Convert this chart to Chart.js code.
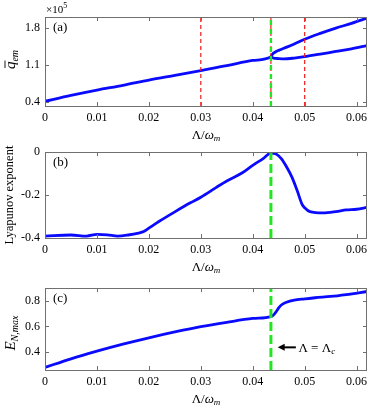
<!DOCTYPE html>
<html>
<head>
<meta charset="utf-8">
<script src="https://cdn.jsdelivr.net/npm/chart.js@4.4.0/dist/chart.umd.min.js"></script>
<style>
  body { margin: 0; background: #fff; width: 374px; height: 411px; position: relative; overflow: hidden; }
  canvas { position: absolute; left: 0; }
</style>
</head>
<body>
<canvas id="ca" width="374" height="145" style="top:0px"></canvas>
<canvas id="cb" width="374" height="140" style="top:140px"></canvas>
<canvas id="cc" width="374" height="135" style="top:276px"></canvas>
<script>
'use strict';

// shared x axis
var xTicks = [0, 0.01, 0.02, 0.03, 0.04, 0.05, 0.06];
var xMax = 0.062;
var lambdaC = 0.0435;
var redLines = [0.03, 0.0435, 0.05];

// (a) mean photon number (x1e5): single branch, then the two branches
var qX = [0, 0.005, 0.01, 0.015, 0.02, 0.025, 0.03, 0.035, 0.04, 0.0435];
var qY = [0.41, 0.52, 0.62, 0.71, 0.81, 0.90, 0.99, 1.08, 1.18, 1.25];
var upX = [0.0438, 0.0442, 0.045, 0.046, 0.048, 0.05, 0.053, 0.056, 0.059, 0.062];
var upY = [1.30, 1.33, 1.37, 1.41, 1.49, 1.58, 1.69, 1.79, 1.88, 1.98];
var lowX = [0.0435, 0.044, 0.045, 0.046, 0.048, 0.05, 0.053, 0.056, 0.059, 0.062];
var lowY = [1.25, 1.225, 1.215, 1.21, 1.225, 1.25, 1.30, 1.35, 1.40, 1.46];
var qTicks = [0.4, 1.1, 1.8];

// (b) Lyapunov exponent
var lyX = [0, 0.005, 0.008, 0.01, 0.012, 0.014, 0.016, 0.018, 0.019, 0.02, 0.022, 0.025, 0.028, 0.03,
           0.033, 0.035, 0.038, 0.04, 0.042, 0.0435, 0.0445, 0.0455, 0.0465, 0.0475, 0.0485, 0.0495,
           0.05, 0.051, 0.0535, 0.056, 0.058, 0.06, 0.062];
var lyY = [-0.391, -0.386, -0.391, -0.383, -0.385, -0.391, -0.386, -0.377, -0.37, -0.354, -0.322, -0.278, -0.236, -0.21,
           -0.164, -0.134, -0.096, -0.061, -0.03, -0.004, -0.008, -0.03, -0.068, -0.114, -0.175, -0.243,
           -0.259, -0.277, -0.283, -0.277, -0.269, -0.266, -0.257];
var lyTicks = [-0.4, -0.2, 0];

// (c) maximum entanglement
var enX = [0, 0.005, 0.01, 0.015, 0.02, 0.025, 0.03, 0.035, 0.04, 0.0435, 0.044, 0.0445, 0.045, 0.0455,
           0.0465, 0.048, 0.05, 0.052, 0.055, 0.058, 0.062];
var enY = [0.277, 0.345, 0.405, 0.46, 0.51, 0.556, 0.598, 0.632, 0.662, 0.677, 0.69, 0.715, 0.745, 0.768,
           0.79, 0.806, 0.816, 0.825, 0.835, 0.85, 0.874];
var enTicks = [0.4, 0.6, 0.8];

var SERIF = '"Liberation Serif", "Times New Roman", serif';
var BLUE = '#0a0aff';
var RED = '#f01c1c';
var GREEN = '#22e622';
var FRAME = '#707070';

Chart.defaults.font.family = SERIF;
Chart.defaults.font.size = 12;
Chart.defaults.color = '#000';

function pts(xs, ys) {
  return xs.map(function (x, i) { return { x: x, y: ys[i] }; });
}
function vline(x, lo, hi) {
  return [{ x: x, y: lo }, { x: x, y: hi }];
}

function rich(ctx, parts, x, y, align) {
  var w = 0;
  parts.forEach(function (p) { ctx.font = p.font; p.w = ctx.measureText(p.text).width; w += p.w; });
  var cx = align === 'center' ? x - w / 2 : x;
  parts.forEach(function (p) {
    ctx.font = p.font;
    ctx.fillText(p.text, cx, y + (p.dy || 0));
    p.x = cx;
    cx += p.w;
  });
  return parts;
}

function xLabel(ctx, area) {
  ctx.textBaseline = 'middle';
  rich(ctx, [
    { text: 'Λ/', font: '13px ' + SERIF },
    { text: 'ω', font: 'italic 13px ' + SERIF },
    { text: 'm', font: 'italic 9px ' + SERIF, dy: 3 }
  ], (area.left + area.right) / 2, area.bottom + 30, 'center');
}

function rotated(ctx, cx, cy, fn) {
  ctx.save();
  ctx.translate(cx, cy);
  ctx.rotate(-Math.PI / 2);
  ctx.textBaseline = 'alphabetic';
  fn();
  ctx.restore();
}

var panels = [
  {
    id: 'ca', top: 17, xh: 39, yMin: 0.32, yMax: 2.0, yTicks: qTicks, letter: '(a)',
    fmt: function (v) { return v.toFixed(1); },
    datasets: [
      { data: vline(lambdaC, 0.32, 2.0), borderColor: GREEN, borderWidth: 2.4, borderDash: [5, 4] }
    ].concat(redLines.map(function (x) {
      return { data: vline(x, 0.32, 2.0), borderColor: RED, borderWidth: 1.2, borderDash: [4, 3] };
    })).concat([
      { data: pts(qX.concat(upX), qY.concat(upY)), borderColor: BLUE, borderWidth: 2.8, cubicInterpolationMode: 'monotone' },
      { data: pts(lowX, lowY), borderColor: BLUE, borderWidth: 2.8, cubicInterpolationMode: 'monotone' }
    ]),
    ylabel: function (ctx, area) {
      rotated(ctx, 15, (area.top + area.bottom) / 2 - 2, function () {
        var p = rich(ctx, [
          { text: 'q', font: 'italic 15px ' + SERIF },
          { text: 'em', font: 'italic 10px ' + SERIF, dy: 3 }
        ], 0, 0, 'center');
        ctx.strokeStyle = '#000';
        ctx.lineWidth = 0.9;
        ctx.beginPath();
        ctx.moveTo(p[0].x + 1, -10);
        ctx.lineTo(p[0].x + p[0].w + 1, -10);
        ctx.stroke();
      });
      ctx.textBaseline = 'alphabetic';
      rich(ctx, [
        { text: '×10', font: '11px ' + SERIF },
        { text: '5', font: '8px ' + SERIF, dy: -5 }
      ], 46, 13, 'left');
    }
  },
  {
    id: 'cb', top: 10, xh: 42, yMin: -0.4, yMax: 0, yTicks: lyTicks, letter: '(b)',
    fmt: function (v) { return v === 0 ? '0' : v.toFixed(1); },
    datasets: [
      { data: vline(lambdaC, -0.4, 0), borderColor: GREEN, borderWidth: 3, borderDash: [9, 4] },
      { data: pts(lyX, lyY), borderColor: BLUE, borderWidth: 2.8, cubicInterpolationMode: 'monotone' }
    ],
    ylabel: function (ctx, area) {
      rotated(ctx, 13, (area.top + area.bottom) / 2, function () {
        rich(ctx, [{ text: 'Lyapunov exponent', font: '12.5px ' + SERIF }], 0, 0, 'center');
      });
    }
  },
  {
    id: 'cc', top: 7, xh: 41, yMin: 0.257, yMax: 0.9, yTicks: enTicks, letter: '(c)',
    fmt: function (v) { return v.toFixed(1); },
    datasets: [
      { data: vline(lambdaC, 0.257, 0.9), borderColor: GREEN, borderWidth: 3, borderDash: [9, 4] },
      { data: pts(enX, enY), borderColor: BLUE, borderWidth: 2.8, cubicInterpolationMode: 'monotone' }
    ],
    ylabel: function (ctx, area) {
      rotated(ctx, 15, (area.top + area.bottom) / 2 + 4, function () {
        rich(ctx, [
          { text: 'E', font: 'italic 15px ' + SERIF },
          { text: 'N,max', font: 'italic 10px ' + SERIF, dy: 3 }
        ], 0, 0, 'center');
      });
    },
    extra: function (ctx, chart) {
      var sx = chart.scales.x, sy = chart.scales.y;
      var hx = sx.getPixelForValue(0.0448), tx = sx.getPixelForValue(0.0483);
      var ay = sy.getPixelForValue(0.435);
      ctx.strokeStyle = '#000';
      ctx.fillStyle = '#000';
      ctx.lineWidth = 2;
      ctx.beginPath();
      ctx.moveTo(tx, ay);
      ctx.lineTo(hx + 5, ay);
      ctx.stroke();
      ctx.beginPath();
      ctx.moveTo(hx, ay);
      ctx.lineTo(hx + 7, ay - 3.5);
      ctx.lineTo(hx + 7, ay + 3.5);
      ctx.closePath();
      ctx.fill();
      ctx.textBaseline = 'middle';
      rich(ctx, [
        { text: 'Λ = Λ', font: '13px ' + SERIF },
        { text: 'c', font: 'italic 9px ' + SERIF, dy: 3 }
      ], sx.getPixelForValue(0.0488), ay + 1, 'left');
    }
  }
];

panels.forEach(function (p) {
  var framePlugin = {
    id: 'frame',
    afterDraw: function (chart) {
      var ctx = chart.ctx, a = chart.chartArea;
      ctx.save();
      ctx.strokeStyle = FRAME;
      ctx.lineWidth = 1;
      ctx.strokeRect(Math.round(a.left) + 0.5, Math.round(a.top) + 0.5,
                     Math.round(a.right - a.left) - 1, Math.round(a.bottom - a.top));
      ctx.beginPath();
      chart.scales.x.ticks.forEach(function (t) {
        var px = Math.round(chart.scales.x.getPixelForValue(t.value)) + 0.5;
        ctx.moveTo(px, a.bottom); ctx.lineTo(px, a.bottom - 4);
        ctx.moveTo(px, a.top); ctx.lineTo(px, a.top + 4);
      });
      chart.scales.y.ticks.forEach(function (t) {
        var py = Math.round(chart.scales.y.getPixelForValue(t.value)) + 0.5;
        ctx.moveTo(a.left, py); ctx.lineTo(a.left + 4, py);
        ctx.moveTo(a.right, py); ctx.lineTo(a.right - 4, py);
      });
      ctx.stroke();
      ctx.fillStyle = '#000';
      ctx.textBaseline = 'alphabetic';
      ctx.font = '13px ' + SERIF;
      ctx.fillText(p.letter, a.left + 8, a.top + 14);
      xLabel(ctx, a);
      p.ylabel(ctx, a);
      if (p.extra) p.extra(ctx, chart);
      ctx.restore();
    }
  };

  new Chart(document.getElementById(p.id), {
    type: 'scatter',
    data: {
      datasets: p.datasets.map(function (d) {
        d.showLine = true;
        d.pointRadius = 0;
        d.fill = false;
        return d;
      })
    },
    options: {
      responsive: false,
      animation: false,
      events: [],
      layout: { padding: { top: p.top, right: 7, left: 0, bottom: 0 } },
      plugins: { legend: { display: false }, tooltip: { enabled: false } },
      scales: {
        x: {
          type: 'linear', min: 0, max: xMax,
          afterBuildTicks: function (s) { s.ticks = xTicks.map(function (v) { return { value: v }; }); },
          afterFit: function (s) { s.height = p.xh; },
          grid: { display: false, drawTicks: false },
          border: { display: false },
          ticks: {
            padding: 5,
            maxRotation: 0,
            callback: function (v) { return v === 0 ? '0' : v.toFixed(2); }
          }
        },
        y: {
          type: 'linear', min: p.yMin, max: p.yMax,
          afterBuildTicks: function (s) { s.ticks = p.yTicks.map(function (v) { return { value: v }; }); },
          afterFit: function (s) { s.width = 45; },
          grid: { display: false, drawTicks: false },
          border: { display: false },
          ticks: { padding: 5, callback: p.fmt }
        }
      }
    },
    plugins: [framePlugin]
  });
});
</script>
</body>
</html>
